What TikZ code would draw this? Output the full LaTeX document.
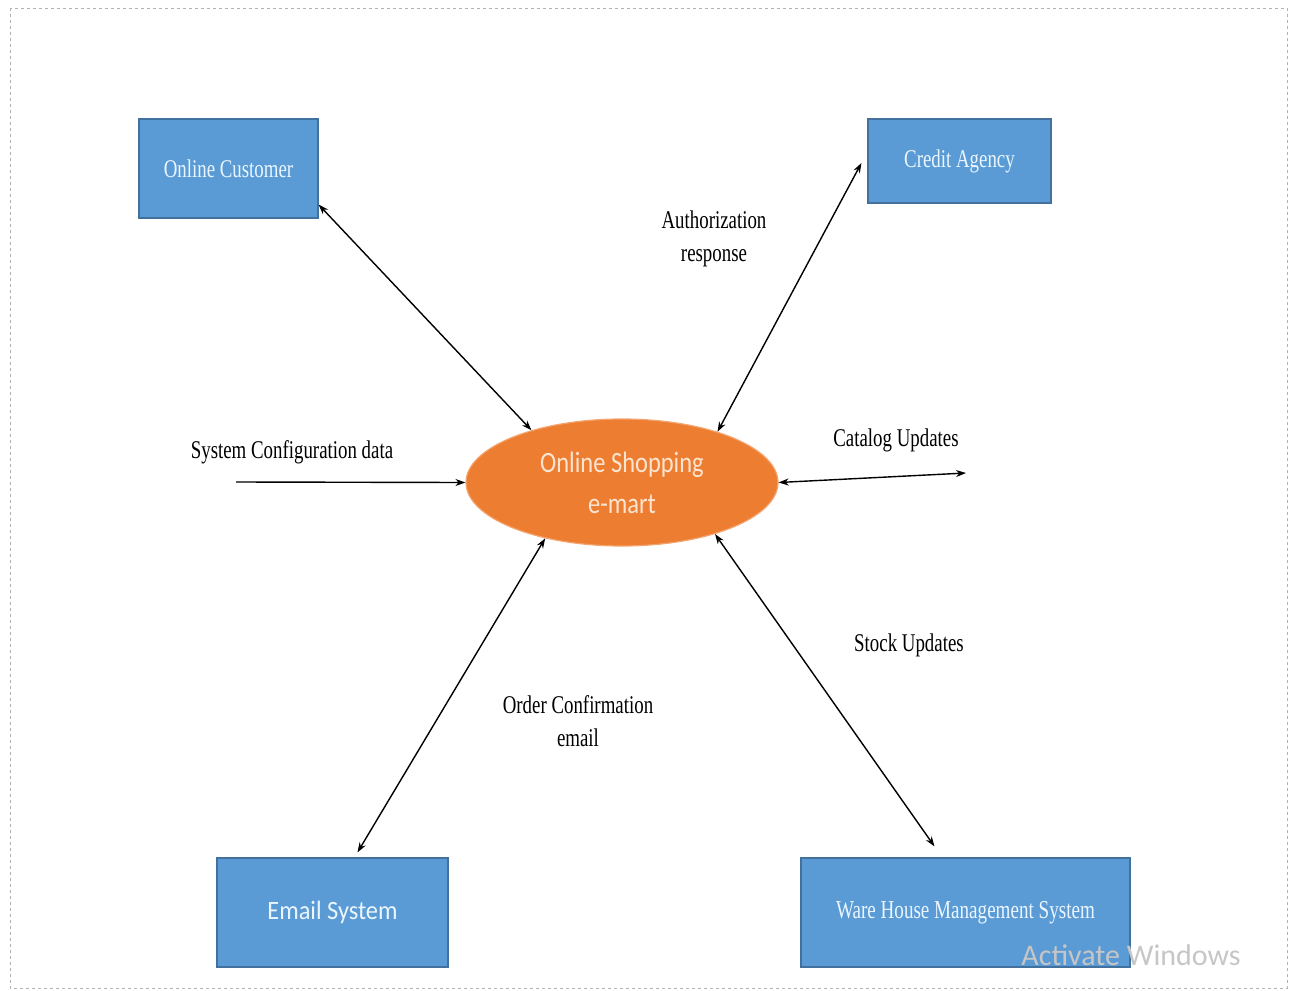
\documentclass[tikz,border=0pt]{standalone}
\usepackage{fontspec}
\setmainfont{Liberation Serif}
\newfontfamily\calfont{Carlito}
\newfontfamily\calovl[FakeStretch=0.83]{Carlito}
\newfontfamily\calbox[FakeStretch=0.92]{Carlito}
\newfontfamily\condserif[FakeStretch=0.74]{Liberation Serif}
\usetikzlibrary{arrows.meta,shapes.geometric}
\definecolor{boxblue}{HTML}{5B9BD5}
\definecolor{boxedge}{HTML}{41719C}
\definecolor{ovalor}{HTML}{ED7D31}
\definecolor{ovaledge}{HTML}{F4A46E}
\definecolor{boxtext}{HTML}{EAF6FF}
\definecolor{ovaltext}{HTML}{FCE4D0}
\begin{document}
\begin{tikzpicture}[x=1pt,y=-1pt,
  entity/.style={draw=boxedge,line width=1.2pt,fill=boxblue,text=boxtext,inner sep=0pt,anchor=center},
  flow/.style={line width=1.4pt,{Stealth[length=10pt,width=7pt]}-{Stealth[length=10pt,width=7pt]}},
  flowone/.style={line width=1.4pt,-{Stealth[length=10pt,width=7pt]}},
  lbl/.style={font=\condserif\fontsize{25.5}{33}\selectfont,align=center,text=black,inner sep=0pt}]
\useasboundingbox (0,0) rectangle (1295,990);
\draw[gray!60,dashed,line width=0.8pt] (10,8) rectangle (1287,988);
% entities
\node[entity,minimum width=179pt,minimum height=99pt,font=\condserif\fontsize{25.5}{28}\selectfont] (cust) at (228.5,168.5) {Online Customer};
\node[entity,minimum width=183pt,minimum height=84pt,font=\condserif\fontsize{25.5}{28}\selectfont] (credit) at (959.5,161) {Credit Agency};
\node[entity,minimum width=231pt,minimum height=109pt,font=\calbox\fontsize{26.5}{30}\selectfont] (email) at (332.5,912.5) {Email System};
\node[entity,minimum width=329pt,minimum height=109pt,font=\condserif\fontsize{25.8}{28}\selectfont] (ware) at (965.5,912.5) {Ware House Management System};
% central process
\node[ellipse,draw=ovaledge,line width=1.2pt,fill=ovalor,text=ovaltext,minimum width=312pt,minimum height=127pt,inner sep=0pt,align=center,font=\calovl\fontsize{29.5}{41}\selectfont] (shop) at (622,482.5) {Online Shopping\\e-mart};
% connectors
\coordinate (cfg) at (236,482);
\coordinate (cat) at (966,473);
\path (cust.south east) ++(0,-14) coordinate (c1);
\path (credit.west) ++(-6,2) coordinate (c2);
\draw[flow] (c1) -- (shop.150);
\draw[flow] (c2) -- (shop.28);
\draw[flowone] (cfg) -- (shop.west);
\draw[flow] (shop.east) -- (cat);
\draw[flow] (shop.-29) -- ([xshift=-31pt,yshift=11pt]ware.north);
\draw[flow] (shop.216) -- ([xshift=25pt,yshift=5pt]email.north);
% labels
\node[lbl] (lauth) at (714,238.5) {Authorization\\response};
\node[lbl] (lcfg) at (292,452) {System Configuration data};
\node[lbl] (lcat) at (896,440) {Catalog Updates};
\node[lbl] (lstock) at (909,645) {Stock Updates};
\node[lbl] (lorder) at (578,721) {Order Confirmation\\email};
\node[font=\calfont\fontsize{30}{36}\selectfont,text=gray!45,anchor=center] (watermark) at (1131,955) {Activate Windows};
\end{tikzpicture}
\end{document}
